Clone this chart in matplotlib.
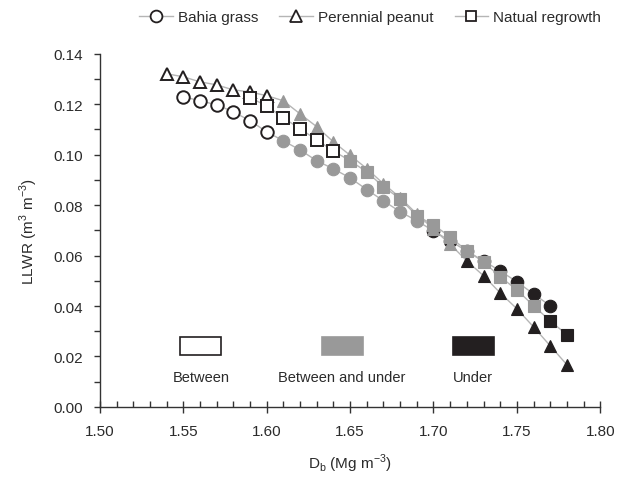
#!/usr/bin/env python3
"""
LLWR versus soil bulk density for three inter-row covers,
with markers shaded by sampling position (between / between and under / under).
"""

from __future__ import annotations

import matplotlib

matplotlib.use("Agg")

import matplotlib.pyplot as plt
from matplotlib.lines import Line2D
from matplotlib.patches import Rectangle
from matplotlib.ticker import MultipleLocator

OUTPUT_PATH = "out.png"

# --- data ---
DB_BAHIA = [1.55, 1.56, 1.57, 1.58, 1.59, 1.60, 1.61, 1.62, 1.63, 1.64, 1.65, 1.66,
            1.67, 1.68, 1.69, 1.70, 1.71, 1.72, 1.73, 1.74, 1.75, 1.76, 1.77]
LLWR_BAHIA = [0.1230, 0.1214, 0.1198, 0.1170, 0.1135, 0.1091, 0.1055, 0.1019, 0.0976,
              0.0944, 0.0908, 0.0862, 0.0817, 0.0774, 0.0738, 0.0698, 0.0658, 0.0618,
              0.0579, 0.0539, 0.0496, 0.0448, 0.0401]
ZONE_BAHIA = ["Between"] * 6 + ["Between and under"] * 9 + ["Under"] * 8

DB_PEANUT = [1.54, 1.55, 1.56, 1.57, 1.58, 1.59, 1.60, 1.61, 1.62, 1.63, 1.64, 1.65, 1.66,
             1.67, 1.68, 1.69, 1.70, 1.71, 1.72, 1.73, 1.74, 1.75, 1.76, 1.77, 1.78]
LLWR_PEANUT = [0.1321, 0.1309, 0.1289, 0.1277, 0.1257, 0.1249, 0.1234, 0.1214, 0.1162,
               0.1111, 0.1051, 0.0998, 0.0945, 0.0885, 0.0830, 0.0765, 0.0705, 0.0645,
               0.0579, 0.0520, 0.0452, 0.0389, 0.0317, 0.0242, 0.0167]
ZONE_PEANUT = ["Between"] * 7 + ["Between and under"] * 11 + ["Under"] * 7

DB_REGROWTH = [1.59, 1.60, 1.61, 1.62, 1.63, 1.64, 1.65, 1.66, 1.67, 1.68, 1.69, 1.70,
               1.71, 1.72, 1.73, 1.74, 1.75, 1.76, 1.77, 1.78]
LLWR_REGROWTH = [0.1226, 0.1194, 0.1146, 0.1103, 0.1059, 0.1015, 0.0976, 0.0932, 0.0873,
                 0.0825, 0.0758, 0.0722, 0.0674, 0.0619, 0.0575, 0.0516, 0.0464, 0.0401,
                 0.0341, 0.0286]
ZONE_REGROWTH = ["Between"] * 6 + ["Between and under"] * 12 + ["Under"] * 2

SERIES_LABELS = ["Bahia grass", "Perennial peanut", "Natual regrowth"]
ZONE_LABELS = ["Between", "Between and under", "Under"]

# --- styling ---
FONT = ["Liberation Sans", "DejaVu Sans"]
TEXT_COLOR = "#2b2b2b"
LINE_COLOR = "#b5b5b5"
ZONE_FACE = {"Between": "white", "Between and under": "#999999", "Under": "#231f20"}
ZONE_EDGE = {"Between": "#231f20", "Between and under": "#999999", "Under": "#231f20"}
MARKERS = {"Bahia grass": ("o", 9.0), "Perennial peanut": ("^", 8.5), "Natual regrowth": ("s", 8.0)}


def plot_series(ax, label, db, llwr, zones, zorder):
    marker, size = MARKERS[label]
    ax.plot(db, llwr, color=LINE_COLOR, linewidth=1.0, zorder=zorder)
    for zone in ZONE_LABELS:
        xs = [x for x, z in zip(db, zones) if z == zone]
        ys = [y for y, z in zip(llwr, zones) if z == zone]
        if not xs:
            continue
        ax.plot(
            xs, ys, linestyle="none", marker=marker, markersize=size,
            markerfacecolor=ZONE_FACE[zone], markeredgecolor=ZONE_EDGE[zone],
            markeredgewidth=1.4 if zone == "Between" else 0.8, zorder=zorder + 0.5,
        )


def main() -> None:
    plt.rcParams["font.family"] = FONT
    fig = plt.figure(figsize=(6.24, 4.81), dpi=100)
    ax = fig.add_axes([0.160, 0.152, 0.802, 0.734])

    plot_series(ax, "Bahia grass", DB_BAHIA, LLWR_BAHIA, ZONE_BAHIA, 2)
    plot_series(ax, "Perennial peanut", DB_PEANUT, LLWR_PEANUT, ZONE_PEANUT, 3)
    plot_series(ax, "Natual regrowth", DB_REGROWTH, LLWR_REGROWTH, ZONE_REGROWTH, 4)

    ax.set_xlim(1.50, 1.80)
    ax.set_ylim(0.0, 0.14)
    ax.xaxis.set_major_locator(MultipleLocator(0.05))
    ax.xaxis.set_minor_locator(MultipleLocator(0.01))
    ax.yaxis.set_major_locator(MultipleLocator(0.02))
    ax.yaxis.set_minor_locator(MultipleLocator(0.01))
    ax.xaxis.set_major_formatter(lambda v, _: f"{v:.2f}")
    ax.yaxis.set_major_formatter(lambda v, _: f"{v:.2f}")

    for side in ("top", "right"):
        ax.spines[side].set_visible(False)
    for side in ("left", "bottom"):
        ax.spines[side].set_color("#333333")
        ax.spines[side].set_linewidth(1.0)

    ax.tick_params(axis="x", which="major", direction="inout", length=8, width=1.0,
                   color="#333333", labelsize=11, labelcolor=TEXT_COLOR, pad=8)
    ax.tick_params(axis="x", which="minor", direction="in", length=4, width=1.0, color="#333333")
    ax.tick_params(axis="y", which="major", direction="out", length=4, width=1.0,
                   color="#333333", labelsize=11, labelcolor=TEXT_COLOR, pad=8)
    ax.tick_params(axis="y", which="minor", direction="out", length=4, width=1.0, color="#333333")

    ax.set_xlabel(r"D$_\mathregular{b}$ (Mg m$^\mathregular{-3}$)", fontsize=11,
                  color=TEXT_COLOR, labelpad=10)
    ax.set_ylabel(r"LLWR (m$^\mathregular{3}$ m$^\mathregular{-3}$)", fontsize=11,
                  color=TEXT_COLOR, labelpad=10)

    # series legend across the top
    handles = []
    for label in SERIES_LABELS:
        marker, size = MARKERS[label]
        handles.append(Line2D([], [], color=LINE_COLOR, linewidth=1.0, marker=marker,
                              markersize=size - 0.5, markerfacecolor="white",
                              markeredgecolor="#231f20", markeredgewidth=1.3))
    fig.legend(handles, SERIES_LABELS, loc="upper center", bbox_to_anchor=(0.593, 1.005),
               ncol=3, frameon=False, fontsize=11, handlelength=2.2, handletextpad=0.3,
               columnspacing=1.4, labelcolor=TEXT_COLOR)

    # sampling-position key inside the axes
    key_x = [0.202, 0.484, 0.746]
    for x, zone in zip(key_x, ZONE_LABELS):
        ax.add_patch(Rectangle((x - 0.041, 0.147), 0.082, 0.051, transform=ax.transAxes,
                               facecolor=ZONE_FACE[zone], edgecolor=ZONE_EDGE[zone],
                               linewidth=1.2, zorder=5))
        ax.text(x, 0.085, zone, transform=ax.transAxes, ha="center", va="center",
                fontsize=10.5, color=TEXT_COLOR)

    fig.savefig(OUTPUT_PATH, dpi=100)
    plt.close(fig)


if __name__ == "__main__":
    main()
